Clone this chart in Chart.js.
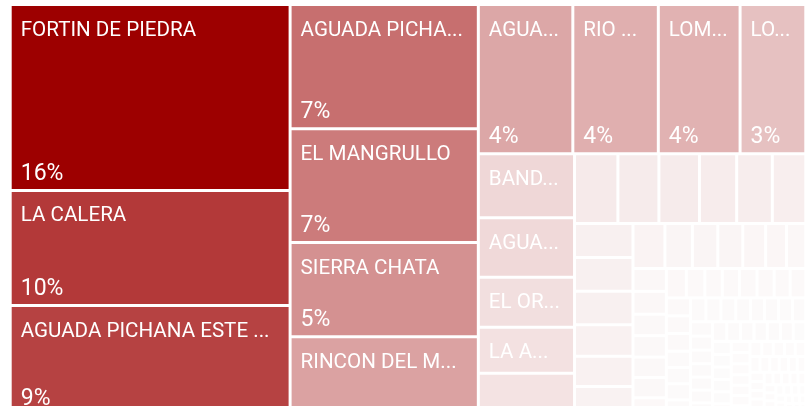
<!DOCTYPE html>
<html>
<head>
<meta charset="utf-8">
<script src="https://cdn.jsdelivr.net/npm/chart.js@4.4.1/dist/chart.umd.min.js"></script>
<style>
  html, body { margin: 0; padding: 0; background: #fff; overflow: hidden; }
  #wrap { width: 812px; height: 420px; }
</style>
</head>
<body>
<div id="wrap"><canvas id="treemap"></canvas></div>
<script>
// yacimientos, ordered by share of production
const fieldNames = [
  'FORTIN DE PIEDRA', 'LA CALERA', 'AGUADA PICHANA ESTE MULICHINCO', 'AGUADA PICHANA OESTE',
  'EL MANGRULLO', 'SIERRA CHATA', 'RINCON DEL MANGRULLO', 'AGUADA DE LA ARENA', 'RIO NEUQUEN',
  'LOMA CAMPANA', 'LOMA LA LATA - SIERRA BARROSA', 'BANDURRIA SUR', 'AGUADA SAN ROQUE',
  'EL OREJANO', 'LA AMARGA CHICA', 'CENTENARIO', 'LINDERO ATRAVESADO', 'ESTACION FERNANDEZ ORO',
  'CERRO DRAGON', 'PUESTO HERNANDEZ', 'ACAMBUCO', 'AGUARAGUE', 'SAN PEDRITO', 'CAMPO DURAN',
  'RAMOS', 'EL TRAPIAL', 'CHIHUIDO DE LA SIERRA NEGRA', 'ENTRE LOMAS', 'BAJADA DEL PALO OESTE',
  'COIRON AMARGO SUR OESTE', 'LA INVERNADA', 'CRUZ DE LORENA', 'AGUADA FEDERAL', 'BAJO DEL CHOIQUE',
  'PAMPA DE LAS YEGUAS', 'LOMA AMARILLA SUR', 'EL PORTON', 'CERRO FORTUNOSO', 'CERRO BANDERA',
  'PUESTO ROJAS', 'SEÑAL PICADA', 'CAÑADON AMARILLO', 'DESFILADERO BAYO', 'BAJO BAGUALES',
  'LOMA JARILLOSA ESTE', 'AGUA DEL CAJON', 'NEUQUEN DEL MEDIO', 'SANTO DOMINGO', 'CHARCO BAYO',
  'EL MEDANITO', 'ANTICLINAL GRANDE', 'LA VENTANA', 'LOMA NEGRA', 'PUESTO TOUQUET', 'CAÑADON SECO',
  'PIEDRA CLAVADA', 'KOLUEL KAYKE', 'LAS HERAS', 'EL GUADAL', 'CERRO GRANDE', 'MANANTIALES BEHR',
  'EL TORDILLO', 'DIADEMA', 'ESCALANTE', 'PICO TRUNCADO', 'BARRANCA BAYA', 'CAÑADON LEON',
  'LOS PERALES', 'LAS MESETAS', 'CERRO WENCESLAO', 'MAGALLANES', 'POSEIDON', 'CARINA', 'AUSTRAL',
  'VEGA PLEYADE', 'ARIES', 'CAÑADON ALFA', 'HIDRA', 'SAN SEBASTIAN', 'LOS CHORRILLOS', 'TAPI AIKE',
  'CAMPO BREMEN', 'CONDOR', 'LAGO FUERTE', 'CERRO REDONDO', 'LA PAZ', 'VIZCACHERAS', 'BARRANCAS',
  'CHAÑARES HERRADOS', 'LLANCANELO', 'PAMPA PALAUCO', 'CERRO HUANUL', 'EL SOSNEADO',
  'VALLE DEL RIO GRANDE', 'CAJON DE LOS CABALLOS', 'CERRO MOLLAR', 'RINCON DE LOS SAUCES',
  'PUESTO MOLINA', 'OCTOGONO', 'LAS BASES', 'EL SALITRAL', 'BORDE MONTUOSO', 'VOLCAN AUCA MAHUIDA',
  'LOS TOLDOS I SUR', 'LOS TOLDOS II ESTE', 'MESETA BUENA ESPERANZA', 'PAMPA DE CASTILLO',
  'TRES PICOS', 'EL HUEMUL', 'CERRO PIEDRA', 'LA GUITARRA', 'EL VALLE', 'BELLA VISTA OESTE',
  'CAMPO BOSQUE', 'SIERRA DEL NEVADO', 'JAGÜEL DE LOS MACHOS', 'ANTICLINAL CAMPAMENTO', 'OJO DE AGUA',
  'LOMA LAS YEGUAS', 'LOMA DEL MOJON', 'RINCONADA NORTE', 'FILO MORADO', 'MEDANITO SUR',
  'TORDILLO OESTE', 'EL CARACOL', 'EL CHIVIL', 'PALMAR LARGO', 'TARTAGAL ORIENTAL', 'MORILLO',
  'CAIMANCITO', 'LA BOTIJA', 'SURUBI', 'AGUA SALADA'
];

const fieldShare = [
  15.86, 9.81, 9.38, 7.13, 6.52, 5.40, 4.52, 4.30, 3.89, 3.72, 2.99,
  1.87, 1.75, 1.46, 1.35, 1.24,
  0.92, 0.87, 0.86, 0.79, 0.756, 0.71,
  0.607, 0.60, 0.598, 0.562, 0.535, 0.518,
  0.437, 0.376, 0.349, 0.342, 0.313, 0.285,
  0.265, 0.233, 0.232, 0.218, 0.218, 0.208, 0.205,
  0.18, 0.179, 0.167, 0.156, 0.156, 0.156, 0.154, 0.144,
  0.14, 0.132, 0.131, 0.13, 0.12, 0.12, 0.119, 0.115,
  0.112, 0.11, 0.108, 0.106, 0.104, 0.102, 0.1, 0.098,
  0.096, 0.094, 0.092, 0.09, 0.088, 0.086, 0.085, 0.084,
  0.082, 0.08, 0.079, 0.078, 0.076, 0.075, 0.074, 0.072, 0.071, 0.07,
  0.068, 0.066, 0.065, 0.064, 0.062, 0.06, 0.059, 0.058, 0.056, 0.055,
  0.053, 0.052, 0.05, 0.049, 0.048, 0.046, 0.045, 0.044, 0.042, 0.041,
  0.04, 0.038, 0.037, 0.036, 0.035, 0.034, 0.033, 0.032, 0.031, 0.03,
  0.029, 0.028, 0.027, 0.026, 0.025, 0.024, 0.023, 0.022, 0.021, 0.02,
  0.019, 0.018, 0.017, 0.016, 0.015, 0.014, 0.013, 0.012, 0.011, 0.01
];

// gradient ends (white-ish for small, dark red for large)
const lowColor = [253, 252, 252];
const highColor = [157, 0, 0];
const saturateAt = 12.7;

const totalShare = fieldShare.reduce((a, b) => a + b, 0);

function shade(v) {
  const t = Math.min(1, v / saturateAt);
  const c = lowColor.map((lo, k) => Math.round(lo + (highColor[k] - lo) * t));
  return 'rgb(' + c.join(',') + ')';
}

// squarified layout (golden ratio, like d3), in a width x height box
function squarify(values, width, height) {
  const phi = (1 + Math.sqrt(5)) / 2;
  const out = new Array(values.length);
  let x0 = 0, y0 = 0, x1 = width, y1 = height;
  let value = values.reduce((a, b) => a + b, 0);
  let i0 = 0, i1 = 0;
  const n = values.length;
  while (i0 < n) {
    const dx = x1 - x0, dy = y1 - y0;
    let sum = values[i1++];
    let minV = sum, maxV = sum;
    const alpha = Math.max(dy / dx, dx / dy) / (value * phi);
    let beta = sum * sum * alpha;
    let minRatio = Math.max(maxV / beta, beta / minV);
    for (; i1 < n; ++i1) {
      const v = values[i1];
      sum += v;
      if (v < minV) minV = v;
      if (v > maxV) maxV = v;
      beta = sum * sum * alpha;
      const r = Math.max(maxV / beta, beta / minV);
      if (r > minRatio) { sum -= v; break; }
      minRatio = r;
    }
    if (dx < dy) {
      const h = dy * sum / value;
      let x = x0;
      for (let i = i0; i < i1; i++) {
        const w = dx * values[i] / sum;
        out[i] = { x0: x, y0: y0, x1: x + w, y1: y0 + h };
        x += w;
      }
      y0 += h;
    } else {
      const w = dx * sum / value;
      let y = y0;
      for (let i = i0; i < i1; i++) {
        const h = dy * values[i] / sum;
        out[i] = { x0: x0, y0: y, x1: x0 + w, y1: y + h };
        y += h;
      }
      x0 += w;
    }
    value -= sum;
    i0 = i1;
  }
  return out;
}

function fitText(ctx, text, maxW) {
  if (ctx.measureText(text).width <= maxW) return text;
  let t = text;
  while (t.length > 0 && ctx.measureText(t + '...').width > maxW) t = t.slice(0, -1);
  return t.length ? t + '...' : '';
}

class TreemapController extends Chart.DatasetController {
  initialize() {
    this.enableOptionSharing = true;
    super.initialize();
  }
  update(mode) {
    const meta = this._cachedMeta;
    this.updateElements(meta.data, 0, meta.data.length, mode);
  }
  updateElements(rects, start, count, mode) {
    const { xScale, yScale } = this._cachedMeta;
    const ds = this.getDataset();
    const half = (ds.spacing || 0) / 2;
    const W = xScale.width, H = yScale.height;
    const cells = squarify(ds.data, W, H);
    for (let i = start; i < start + count; i++) {
      const c = cells[i];
      const l = xScale.getPixelForValue(c.x0 / W) + half;
      const r = xScale.getPixelForValue(c.x1 / W) - half;
      const t = yScale.getPixelForValue(c.y0 / H) + half;
      const b = yScale.getPixelForValue(c.y1 / H) - half;
      this.updateElement(rects[i], i, {
        x: (l + r) / 2,
        y: t,
        base: Math.max(t, b),
        width: Math.max(0, r - l),
        height: Math.max(0, b - t),
        horizontal: false,
        inflateAmount: 0,
        borderSkipped: {},
        enableBorderRadius: false,
        options: this.resolveDataElementOptions(i, mode)
      }, mode);
    }
  }
  draw() {
    const ctx = this._ctx;
    const meta = this._cachedMeta;
    const ds = this.getDataset();
    const labels = this.chart.data.labels;
    meta.data.forEach(el => el.draw(ctx));

    ctx.save();
    ctx.fillStyle = '#ffffff';
    ctx.textBaseline = 'alphabetic';
    ctx.textAlign = 'left';
    meta.data.forEach((el, i) => {
      const left = el.x - el.width / 2;
      const h = el.base - el.y;
      if (el.width < 50 || h < 40) return;
      ctx.font = '20.6px Roboto';
      ctx.fillText(fitText(ctx, labels[i], el.width - 18), left + 9, el.y + 29.5);
      if (h >= 90) {
        const pct = Math.round(ds.data[i] / totalShare * 100) + '%';
        ctx.font = '23px Roboto';
        ctx.fillText(pct, left + 9, el.base - 9);
      }
    });
    ctx.restore();
  }
}
TreemapController.id = 'treemapLite';
TreemapController.defaults = { dataElementType: 'bar', datasetElementType: false };
Chart.register(TreemapController);

let treemapCtx = document.getElementById('treemap').getContext('2d');
let treemap = new Chart(treemapCtx, {
  type: 'treemapLite',
  data: {
    labels: fieldNames,
    datasets: [{
      label: 'Producción',
      data: fieldShare,
      spacing: 3,
      borderWidth: 0,
      backgroundColor: (c) => shade(c.raw)
    }]
  },
  options: {
    responsive: true,
    maintainAspectRatio: false,
    animation: false,
    events: [],
    layout: { padding: { left: 10.2, right: 6.2, top: 4.5, bottom: 4.5 } },
    scales: {
      x: { type: 'linear', min: 0, max: 1, display: false },
      y: { type: 'linear', min: 0, max: 1, reverse: true, display: false }
    },
    plugins: {
      legend: { display: false },
      tooltip: { enabled: false }
    }
  }
});
</script>
</body>
</html>
